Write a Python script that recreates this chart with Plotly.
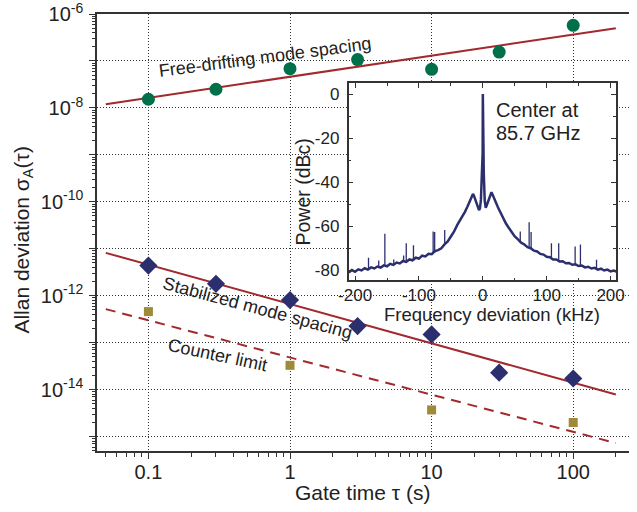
import plotly.graph_objects as go

# ---------------- data ----------------
tau = [0.1, 0.3, 1, 3, 10, 30, 100]
free_drift = [1.53e-8, 2.5e-8, 6.85e-8, 1.07e-7, 6.65e-8, 1.55e-7, 5.75e-7]
stabilized = [4.4e-12, 1.8e-12, 8.1e-13, 2.26e-13, 1.5e-13, 2.3e-14, 1.73e-14]
tau_counter = [0.1, 1, 10, 100]
counter = [4.6e-13, 3.3e-14, 3.7e-15, 2.0e-15]

fit_tau = [0.05, 200]
free_fit = [1.2e-8, 5.0e-7]
stab_fit = [8.2e-12, 7.9e-15]
counter_fit = [5.2e-13, 7.3e-16]

y_tick_vals = [1e-15, 1e-14, 1e-13, 1e-12, 1e-11, 1e-10, 1e-9, 1e-8, 1e-7, 1e-6]
y_tick_text = ["", "10<sup>-14</sup>", "", "10<sup>-12</sup>", "", "10<sup>-10</sup>", "",
               "10<sup>-8</sup>", "", "10<sup>-6</sup>"]
x_tick_vals = [0.1, 1, 10, 100]
x_tick_text = ["0.1", "1", "10", "100"]

spec_freq = [-210, -205, -200, -195, -190, -185, -180, -175, -170, -165, -160, -155, -150,
             -145, -140, -135, -130, -125, -120, -115, -110, -105, -100, -95, -90, -85, -80,
             -75, -70, -65, -60, -55, -50, -45, -40, -36, -32, -28, -24, -20, -17, -15.5,
             -14, -12, -10, -8, -6, -4.5, -3, -1.5, -0.6, -0.3, 0, 0.3, 0.6, 1.5, 3, 4.5, 6,
             8, 10, 12, 13.5, 15, 17, 20, 24, 28, 32, 36, 40, 45, 50, 55, 60, 65, 70, 75, 80,
             85, 90, 95, 100, 105, 110, 115, 120, 125, 130, 135, 140, 145, 150, 155, 160, 165,
             170, 175, 180, 185, 190, 195, 200, 205, 210]
spec_power = [-80.9, -79.8, -80.6, -79.5, -80.0, -79.0, -79.6, -78.6, -79.1, -78.2, -78.7,
              -77.7, -78.1, -77.0, -77.5, -76.4, -76.8, -75.7, -76.1, -75.0, -75.4, -74.2,
              -74.6, -73.3, -73.6, -72.4, -72.6, -71.2, -70.8, -69.9, -68.2, -66.8, -64.6,
              -62.3, -59.3, -57.5, -55.2, -53.4, -51.0, -48.6, -46.2, -45.3, -46.0, -47.8,
              -49.6, -51.0, -52.6, -51.8, -48.0, -36.0, -27.5, -26.8, 0.0, -26.8, -27.5, -36.0,
              -48.5, -51.6, -50.5, -48.6, -46.8, -45.2, -44.5, -45.4, -47.0, -48.8, -51.6,
              -54.0, -56.8, -58.6, -60.4, -62.4, -64.6, -65.9, -67.4, -68.2, -69.4, -69.9,
              -71.0, -71.4, -72.5, -72.8, -73.8, -74.0, -75.0, -75.0, -75.9, -75.8, -76.7,
              -76.6, -77.4, -77.2, -78.0, -77.8, -78.6, -78.3, -79.1, -78.8, -79.6, -79.2,
              -80.0, -79.6, -80.4, -80.0, -80.6]

spike_freq = [-179, -163, -153.4, -139.5, -124, -119.9, -108.6, -77.8, -75.4, -59.7,
              58.6, 72.5, 75.6, 107.4, 118.8, 144.5, 152.8, 178]
spike_top = [-74.2, -75.5, -63.3, -75.0, -73.2, -67.6, -68.6, -62.3, -62.6, -61.6,
             -62.3, -58.1, -62.6, -67.6, -67.6, -69.1, -68.2, -75.1]
spike_foot = [-79.4, -78.5, -78.0, -77.2, -76.2, -76.0, -75.0, -72.4, -72.0, -68.0,
              -67.2, -69.6, -70.2, -74.5, -75.5, -77.3, -77.8, -79.2]

inset_x_vals = [-200, -100, 0, 100, 200]
inset_x_text = ["-200", "-100", "0", "100", "200"]
inset_y_vals = [0, -20, -40, -60, -80]
inset_y_text = ["0", "-20", "-40", "-60", "-80"]

# ---------------- styling ----------------
FONT = "Liberation Sans, Arial, sans-serif"
TXT = "#222222"
AX = "#333333"
RED = "#A2292E"
NAVY = "#2C2F6E"
GREEN = "#00704A"
GOLD = "#9E8A38"

W, H = 637, 512
ML, MR, MT, MB = 97, 0, 13, 61
PW, PH = W - ML - MR, H - MT - MB


def px(x):
    return (x - ML) / PW


def py(y):
    return (H - MB - y) / PH


fig = go.Figure()

# main plot traces
fig.add_trace(go.Scatter(x=fit_tau, y=free_fit, mode="lines",
                         line=dict(color=RED, width=2), hoverinfo="skip"))
fig.add_trace(go.Scatter(x=fit_tau, y=stab_fit, mode="lines",
                         line=dict(color=RED, width=2), hoverinfo="skip"))
fig.add_trace(go.Scatter(x=fit_tau, y=counter_fit, mode="lines",
                         line=dict(color=RED, width=2, dash="10px,7px"), hoverinfo="skip"))
fig.add_trace(go.Scatter(x=tau, y=free_drift, mode="markers",
                         marker=dict(symbol="circle", size=13, color=GREEN)))
fig.add_trace(go.Scatter(x=tau, y=stabilized, mode="markers",
                         marker=dict(symbol="diamond", size=14, color=NAVY)))
fig.add_trace(go.Scatter(x=tau_counter, y=counter, mode="markers",
                         marker=dict(symbol="square", size=9, color=GOLD)))

# inset spectrum
fig.add_trace(go.Scatter(x=spec_freq, y=spec_power, mode="lines", xaxis="x2", yaxis="y2",
                         line=dict(color=NAVY, width=2.5)))
sx, sy = [], []
for f, top, foot in zip(spike_freq, spike_top, spike_foot):
    sx += [f, f, None]
    sy += [foot, top, None]
fig.add_trace(go.Scatter(x=sx, y=sy, mode="lines", xaxis="x2", yaxis="y2",
                         line=dict(color=NAVY, width=1.3)))

# minor tick positions for log axes
x_minor = []
for dec in [0.01, 0.1, 1, 10, 100]:
    for m in range(2, 10):
        x_minor.append(m * dec)
y_minor = []
for e in range(-16, -6):
    for m in range(2, 10):
        y_minor.append(m * 10 ** e)

grid_dash = "1px,2px"

fig.update_layout(
    width=W, height=H,
    margin=dict(l=ML, r=MR, t=MT, b=MB),
    paper_bgcolor="white", plot_bgcolor="white",
    showlegend=False,
    font=dict(family=FONT, color=TXT),
    xaxis=dict(
        type="log", range=[-1.363, 2.394], domain=[0, 1],
        showline=True, linecolor=AX, linewidth=1.5, mirror=True,
        ticks="outside", ticklen=6, tickwidth=1, tickcolor=AX,
        tickmode="array", tickvals=x_tick_vals, ticktext=x_tick_text,
        tickfont=dict(size=20, family=FONT, color=TXT),
        ticklabelstandoff=-4, ticklabeloverflow="allow",
        showgrid=True, gridcolor=AX, gridwidth=1, griddash=grid_dash,
        zeroline=False,
        minor=dict(tickmode="array", tickvals=x_minor, ticks="outside", ticklen=4,
                   tickcolor=AX, tickwidth=1, showgrid=False),
    ),
    yaxis=dict(
        type="log", range=[-15.306, -5.9995], domain=[0, 1],
        showline=True, linecolor=AX, linewidth=1.5, mirror=False,
        ticks="outside", ticklen=6, tickwidth=1, tickcolor=AX,
        tickmode="array", tickvals=y_tick_vals, ticktext=y_tick_text,
        tickfont=dict(size=20, family=FONT, color=TXT),
        ticklabeloverflow="allow", ticklabelstandoff=2,
        showgrid=True, gridcolor=AX, gridwidth=1, griddash=grid_dash,
        zeroline=False,
        minor=dict(tickmode="array", tickvals=y_minor, ticks="outside", ticklen=3.5,
                   tickcolor=AX, tickwidth=1, showgrid=False),
    ),
    xaxis2=dict(
        domain=[px(352.3), px(624)], anchor="y2", range=[-210.3, 208.8],
        showline=True, linecolor=AX, linewidth=1.5, mirror="allticks",
        ticks="inside", ticklen=5, tickwidth=1, tickcolor=AX,
        tickmode="array", tickvals=inset_x_vals, ticktext=inset_x_text,
        tickfont=dict(size=17, family=FONT, color=TXT),
        ticklabelstandoff=-2, ticklabeloverflow="allow",
        showgrid=False, zeroline=False,
        minor=dict(tickmode="linear", tick0=0, dtick=50, ticks="inside", ticklen=3,
                   tickcolor=AX, tickwidth=1, showgrid=False),
    ),
    yaxis2=dict(
        domain=[py(280), py(82)], anchor="x2", range=[-84.5, 5.1],
        showline=True, linecolor=AX, linewidth=1.5, mirror="allticks",
        ticks="inside", ticklen=5, tickwidth=1, tickcolor=AX,
        tickmode="array", tickvals=inset_y_vals, ticktext=inset_y_text,
        tickfont=dict(size=17, family=FONT, color=TXT),
        ticklabelstandoff=4, ticklabeloverflow="allow",
        showgrid=False, zeroline=False,
        minor=dict(tickmode="linear", tick0=0, dtick=10, ticks="inside", ticklen=3,
                   tickcolor=AX, tickwidth=1, showgrid=False),
    ),
)


def ann(text, x, y, size, angle=0, xanchor="center"):
    fig.add_annotation(text=text, x=px(x), y=py(y), xref="paper", yref="paper",
                       showarrow=False, textangle=angle, xanchor=xanchor, yanchor="middle",
                       font=dict(size=size, family=FONT, color=TXT))


ann("Allan deviation σ<sub>A</sub>(τ)", 22, 240, 21, angle=-90)
ann("Gate time τ (s)", 367, 493, 21)
ann("Free-drifting mode spacing", 268, 56, 18, angle=-7.5)
ann("Stabilized mode spacing", 260, 308, 18, angle=15)
ann("Counter limit", 219, 355, 18, angle=12)
ann("Power (dBc)", 306, 191, 19.5, angle=-90)
ann("Frequency deviation (kHz)", 498, 314, 18.5)
ann("Center at", 500, 109, 20, xanchor="left")
ann("85.7 GHz", 500, 132.5, 20, xanchor="left")

fig.write_html("out.html",
               config={"displayModeBar": False},
               post_script="document.body.style.margin='0px';"
                           "document.body.style.overflow='hidden';")
